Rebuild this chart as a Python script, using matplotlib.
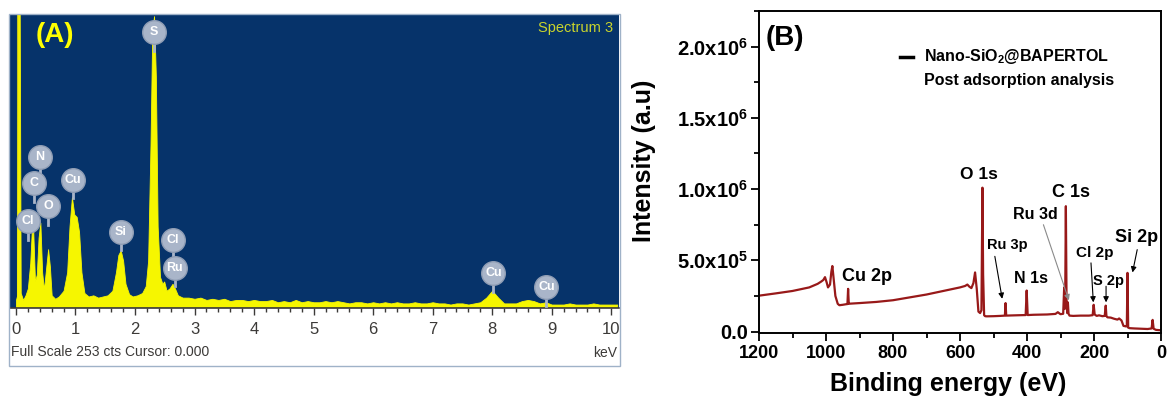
import numpy as np
import matplotlib
matplotlib.use('Agg')
import matplotlib.pyplot as plt
from matplotlib.patches import Rectangle
from matplotlib.ticker import MultipleLocator

plt.rcParams['font.family'] = 'Liberation Sans'
plt.rcParams['mathtext.fontset'] = 'custom'
plt.rcParams['mathtext.rm'] = 'Liberation Sans:bold'
plt.rcParams['mathtext.it'] = 'Liberation Sans:bold'
plt.rcParams['mathtext.bf'] = 'Liberation Sans:bold'
plt.rcParams['mathtext.default'] = 'rm'

### (A) EDS spectrum

full_scale = 253  # cts
# low-energy region, read point by point (keV, cts)
eds_kev = [0.00, 0.02, 0.04, 0.06, 0.08, 0.12, 0.16, 0.20, 0.24, 0.27, 0.29, 0.32,
           0.35, 0.38, 0.41, 0.44, 0.47, 0.50, 0.54, 0.57, 0.60, 0.66, 0.72, 0.80,
           0.86, 0.90, 0.94, 0.98, 1.02, 1.06, 1.10, 1.15, 1.22, 1.30, 1.38, 1.46,
           1.54, 1.62, 1.68, 1.72, 1.76, 1.80, 1.84, 1.90, 1.96, 2.04, 2.12, 2.18,
           2.22, 2.26, 2.29, 2.32, 2.35, 2.38, 2.42, 2.46, 2.49, 2.53, 2.58, 2.63,
           2.67, 2.72, 2.80]
eds_cts = [6, 10, 300, 300, 12, 6, 10, 16, 38, 70, 66, 22,
           28, 60, 73, 30, 15, 30, 50, 35, 10, 7, 9, 14,
           30, 70, 95, 80, 78, 65, 30, 12, 9, 10, 8, 9,
           10, 14, 30, 45, 49, 40, 20, 11, 9, 10, 12, 18,
           40, 140, 240, 252, 200, 70, 26, 20, 22, 14, 16, 20,
           16, 10, 8]
# 2.9 - 10.1 keV in 0.1 keV channels
eds_tail_start = 2.9
eds_tail_cts = [8, 7, 8, 6, 7, 6, 7, 5, 6, 6,
                5, 6, 5, 5, 6, 4, 5, 4, 6, 4,
                5, 4, 4, 5, 4, 5, 4, 3, 4, 4,
                3, 4, 3, 4, 3, 4, 3, 3, 4, 3,
                3, 4, 3, 3, 2, 3, 3, 2, 3, 4,
                8, 14, 8, 3, 3, 3, 5, 6, 5, 3,
                4, 2, 2, 2, 3, 2, 2, 2, 3, 2,
                2, 2, 2]
eds_ticks = [0, 1, 2, 3, 4, 5, 6, 7, 8, 9, 10]

eds_names = ['Cl', 'C', 'N', 'O', 'Cu', 'Si', 'S', 'Ru', 'Cl', 'Cu', 'Cu']
eds_name_kev = [0.20, 0.30, 0.40, 0.54, 0.96, 1.76, 2.32, 2.67, 2.64, 8.02, 8.91]
eds_name_cts = [74, 107, 130, 87, 110, 65, 238, 34, 58, 29, 17]

### (B) XPS survey

xps_be = [1200, 1150, 1100, 1050, 1025, 1015, 1008, 1003, 998, 994, 988, 984, 981,
          978, 972, 965, 960, 950, 940, 936, 934, 932, 928, 900, 850, 800, 750,
          700, 650, 600, 585, 578, 572, 566, 560, 555, 550, 545, 540, 536, 533,
          531, 528, 525, 520, 500, 480, 466, 464, 462, 450, 420, 404, 401, 398,
          380, 340, 315, 308, 300, 292, 289, 287, 286, 284, 282, 280, 278, 276,
          273, 262, 240, 215, 204, 201, 198, 192, 185, 175, 168, 165, 163, 160,
          150, 140, 130, 125, 118, 112, 104, 102, 100, 98, 94, 80, 60, 40, 28,
          25, 22, 15, 5, 0]
xps_int = [2.52, 2.68, 2.85, 3.10, 3.35, 3.50, 3.62, 3.82, 3.45, 3.10, 3.30, 4.20, 4.60,
           3.90, 2.50, 1.95, 1.85, 1.88, 1.92, 1.93, 3.00, 1.95, 1.96, 2.00, 2.08, 2.20, 2.40,
           2.60, 2.85, 3.10, 3.20, 3.30, 3.15, 3.05, 3.40, 4.15, 3.00, 1.40, 1.30, 1.50, 10.1,
           4.00, 1.15, 1.08, 1.07, 1.08, 1.10, 1.12, 2.00, 1.12, 1.13, 1.15, 1.16, 2.88, 1.16,
           1.18, 1.20, 1.24, 1.36, 1.22, 1.25, 3.10, 1.60, 2.20, 8.80, 2.30, 1.30, 2.05, 1.25,
           1.12, 1.10, 1.12, 1.12, 1.15, 1.88, 1.20, 1.10, 1.14, 1.08, 1.10, 1.82, 1.10, 1.00,
           0.98, 0.90, 0.84, 0.92, 0.78, 0.40, 0.36, 0.38, 4.12, 0.28, 0.24, 0.22, 0.20, 0.18, 0.22,
           0.82, 0.20, 0.12, 0.10, 0.10]
xps_int = [v * 1e5 for v in xps_int]

xps_yticks = [0, 5e5, 1e6, 1.5e6, 2e6]
xps_yticklabels = ['0.0', '5.0x10$^{5}$', '1.0x10$^{6}$', '1.5x10$^{6}$', '2.0x10$^{6}$']
xps_xticks = [1200, 1000, 800, 600, 400, 200, 0]

# name, text position, font size, arrow (tail, head) or None, arrow colour
xps_peaks = [
    ('O 1s', (543, 1.10e6), 12.5, None, None),
    ('C 1s', (269, 0.975e6), 13, None, None),
    ('Cu 2p', (878, 0.386e6), 13, None, None),
    ('N 1s', (387, 0.372e6), 11.5, None, None),
    ('Ru 3p', (458, 0.61e6), 10.5, ((496, 5.28e5), (474, 2.30e5)), 'black'),
    ('Ru 3d', (376, 0.82e6), 11.5, ((351, 7.5e5), (275, 2.20e5)), '#8a8a8a'),
    ('Cl 2p', (197, 0.55e6), 11, ((209, 4.82e5), (202, 2.05e5)), 'black'),
    ('S 2p', (157, 0.353e6), 10.5, ((164, 3.18e5), (164, 2.05e5)), 'black'),
    ('Si 2p', (72, 0.657e6), 13, ((71, 5.75e5), (85, 4.15e5)), 'black'),
]

W, H = 1167, 401
fig = plt.figure(figsize=(W / 100, H / 100), dpi=100)

# ---------- panel A ----------
navy = '#06336a'
yellow = '#f6f600'
dark = '#3c3a38'

axA = fig.add_axes([10 / W, 1 - 308 / H, 609 / W, 293 / H])
axA.set_facecolor(navy)
tail_kev = eds_tail_start + 0.1 * np.arange(len(eds_tail_cts))
kev = np.concatenate([eds_kev, tail_kev])
cts = np.concatenate([eds_cts, eds_tail_cts])
axA.fill_between(kev, cts, 0, color=yellow, lw=0.6, edgecolor=yellow, zorder=2)
axA.axvline(0.03, color='#c4c41a', lw=2.2, zorder=1)
axA.set_xlim(-0.1, 10.13)
axA.set_ylim(-1, full_scale)
axA.set_yticks([])
axA.set_xticks(eds_ticks)
axA.set_xticklabels([str(t) for t in eds_ticks])
axA.xaxis.set_minor_locator(MultipleLocator(0.2))
axA.tick_params(axis='x', which='major', length=5, width=1, color=dark,
                labelcolor=dark, labelsize=12, pad=5)
axA.tick_params(axis='x', which='minor', length=3, width=1, color=dark)
for s in ['top', 'left', 'right']:
    axA.spines[s].set_visible(False)
axA.spines['bottom'].set_color(dark)
axA.spines['bottom'].set_linewidth(1.2)

# element markers
stem = 16
for name, x, y in zip(eds_names, eds_name_kev, eds_name_cts):
    axA.plot([x, x], [y - stem, y], color='#a9b5c9', lw=2, zorder=4)
    axA.plot(x, y, 'o', ms=17, mfc='#a9b5c9', mec='#8f9db4', mew=1, zorder=5)
    axA.text(x, y, name, color='white', fontsize=9, fontweight='bold',
             ha='center', va='center', zorder=6)

axA.text(0.655, 236, '(A)', color='#ffff00', fontsize=20, fontweight='bold',
         ha='center', va='center')
axA.text(0.99, 0.955, 'Spectrum 3', transform=axA.transAxes, color='#c9d42c',
         fontsize=10.5, ha='right', va='center')

fig.text(11 / W, 1 - 352 / H, 'Full Scale %d cts Cursor: 0.000' % full_scale,
         color=dark, fontsize=10, ha='left', va='center')
fig.text(617 / W, 1 - 353 / H, 'keV', color=dark, fontsize=10, ha='right', va='center')
fig.patches.append(Rectangle((9 / W, 1 - 366 / H), 611 / W, 352 / H, transform=fig.transFigure,
                             fill=False, ec='#9fb2c8', lw=1))

# ---------- panel B ----------
red = '#981919'
axB = fig.add_axes([759 / W, 1 - 333 / H, 402 / W, 322 / H])
axB.plot(xps_be, xps_int, color=red, lw=1.6)
axB.set_xlim(1200, 0)
axB.set_ylim(-1e4, 2.25e6)
axB.set_xticks(xps_xticks)
axB.set_xticklabels([str(t) for t in xps_xticks])
axB.set_yticks(xps_yticks)
axB.set_yticklabels(xps_yticklabels)
axB.xaxis.set_minor_locator(MultipleLocator(100))
axB.yaxis.set_minor_locator(MultipleLocator(2.5e5))
axB.tick_params(which='major', direction='out', length=6, width=1.3, labelsize=13, pad=3)
axB.tick_params(axis='y', which='major', labelsize=14.5, pad=2)
axB.tick_params(which='minor', direction='out', length=3.5, width=1.3)
for lab in axB.get_xticklabels() + axB.get_yticklabels():
    lab.set_fontweight('bold')
for s in axB.spines.values():
    s.set_linewidth(1.4)

axB.set_xlabel('Binding energy (eV)', fontsize=18, fontweight='bold')
axB.xaxis.set_label_coords(0.47, -0.12)
axB.set_ylabel('Intensity (a.u)', fontsize=18, fontweight='bold')
axB.yaxis.set_label_coords(-0.255, 0.534)

for name, (tx, ty), fs, arrow, acol in xps_peaks:
    axB.text(tx, ty, name, fontsize=fs, fontweight='bold', ha='center', va='center')
    if arrow is not None:
        axB.annotate('', xy=arrow[1], xytext=arrow[0],
                     arrowprops=dict(arrowstyle='-|>', color=acol, lw=0.8,
                                     mutation_scale=8, shrinkA=0, shrinkB=0))

axB.text(1122, 2.06e6, '(B)', fontsize=20, fontweight='bold', ha='center', va='center')

# legend entry
axB.plot([0.351, 0.383], [0.858, 0.858], transform=axB.transAxes, color='black', lw=2.5)
axB.text(0.41, 0.858, 'Nano-SiO$_{2}$@BAPERTOL', transform=axB.transAxes,
         fontsize=11.5, fontweight='bold', ha='left', va='center')
axB.text(0.41, 0.784, 'Post adsorption analysis', transform=axB.transAxes,
         fontsize=11.5, fontweight='bold', ha='left', va='center')

fig.savefig('out.png', dpi=100)
